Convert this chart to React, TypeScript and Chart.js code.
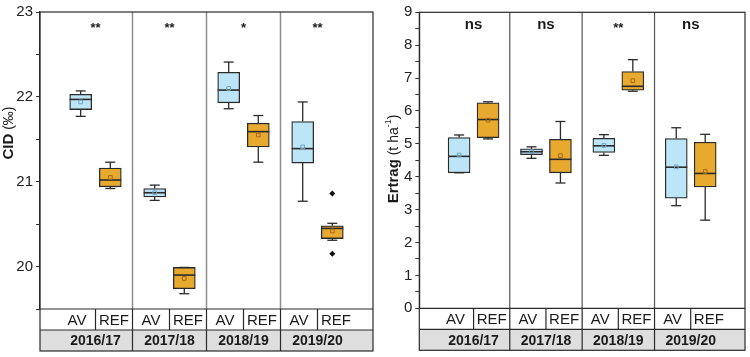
import React, { useEffect, useRef } from 'react';
import { Chart, registerables } from 'chart.js';
Chart.register(...registerables);

// ---------- data ----------
const years = ['2016/17', '2017/18', '2018/19', '2019/20'];
const groups = ['AV', 'REF'];

// CID (‰)
const cidAvMin = [21.77, 20.78, 21.86, 20.77];
const cidAvQ1 = [21.85, 20.82, 21.93, 21.22];
const cidAvMed = [21.97, 20.87, 22.08, 21.39];
const cidAvQ3 = [22.03, 20.92, 22.29, 21.71];
const cidAvMax = [22.07, 20.96, 22.41, 21.94];
const cidAvMean = [21.94, 20.87, 22.1, 21.41];
const cidRefMin = [20.92, 19.68, 21.23, 20.31];
const cidRefQ1 = [20.94, 19.74, 21.41, 20.33];
const cidRefMed = [21.02, 19.9, 21.59, 20.45];
const cidRefQ3 = [21.16, 19.99, 21.69, 20.48];
const cidRefMax = [21.23, 19.99, 21.78, 20.51];
const cidRefMean = [21.05, 19.86, 21.55, 20.42];
const cidRefOutliers = [[], [], [], [20.86, 20.15]];
const cidSig = ['**', '**', '*', '**'];
const cidTicks = [19.5, 23];

// Ertrag (t ha-1)
const ertAvMin = [4.12, 4.56, 4.65, 3.12];
const ertAvQ1 = [4.12, 4.67, 4.74, 3.35];
const ertAvMed = [4.62, 4.76, 4.94, 4.29];
const ertAvQ3 = [5.19, 4.85, 5.17, 5.16];
const ertAvMax = [5.27, 4.91, 5.28, 5.49];
const ertAvMean = [4.66, 4.76, 4.95, 4.3];
const ertRefMin = [5.15, 3.81, 6.6, 2.68];
const ertRefQ1 = [5.19, 4.12, 6.63, 3.69];
const ertRefMed = [5.74, 4.53, 6.75, 4.1];
const ertRefQ3 = [6.25, 5.14, 7.2, 5.05];
const ertRefMax = [6.28, 5.68, 7.56, 5.29];
const ertRefMean = [5.72, 4.64, 6.92, 4.16];
const ertRefOutliers = [[], [], [], []];
const ertSig = ['ns', 'ns', '**', 'ns'];
const ertTicks = [0, 9];

// ---------- styling ----------
const FONT = "'Liberation Sans Narrow', 'Liberation Sans', Arial, sans-serif";
const FONT_W = "'Liberation Sans', Arial, sans-serif";
const GROUP_POS = [0.3, 0.7];
const FILL = ['#bde5f8', '#e8aa2e'];
const MEAN_COL = ['#6fa6c8', '#a8661a'];
const EDGE = '#2b2b2b';

type Stats = { min: number[]; q1: number[]; med: number[]; q3: number[]; max: number[]; mean: number[] };

const boxPlugin = {
  id: 'boxExtras',
  beforeDatasetsDraw(chart: any) {
    const o = chart.options.plugins.boxExtras;
    const { ctx, chartArea: a } = chart;
    const x = chart.scales.x;
    ctx.save();
    ctx.strokeStyle = o.sepColor;
    ctx.lineWidth = o.sepWidth;
    for (let i = 1; i < years.length; i++) {
      const px = x.getPixelForValue(i);
      ctx.beginPath();
      ctx.moveTo(px, a.top);
      ctx.lineTo(px, a.bottom);
      ctx.stroke();
    }
    ctx.restore();
  },
  afterDatasetDraw(chart: any, args: any) {
    const o = chart.options.plugins.boxExtras;
    if (args.meta.type !== 'bar') return;
    const st: Stats = o.stats[args.index];
    const { ctx } = chart;
    const y = chart.scales.y;
    ctx.save();
    ctx.strokeStyle = EDGE;
    ctx.lineWidth = 1.3;
    args.meta.data.forEach((el: any, i: number) => {
      const cx = el.x;
      const hw = el.width / 2;
      const cap = 5;
      const line = (x1: number, y1: number, x2: number, y2: number) => {
        ctx.beginPath();
        ctx.moveTo(x1, y1);
        ctx.lineTo(x2, y2);
        ctx.stroke();
      };
      const yMax = y.getPixelForValue(st.max[i]);
      const yQ3 = y.getPixelForValue(st.q3[i]);
      const yQ1 = y.getPixelForValue(st.q1[i]);
      const yMin = y.getPixelForValue(st.min[i]);
      const yMed = y.getPixelForValue(st.med[i]);
      line(cx, yQ3, cx, yMax);
      line(cx - cap, yMax, cx + cap, yMax);
      line(cx, yQ1, cx, yMin);
      line(cx - cap, yMin, cx + cap, yMin);
      ctx.lineWidth = 1.6;
      line(cx - hw, yMed, cx + hw, yMed);
      ctx.lineWidth = 1.3;
    });
    ctx.restore();
  },
  afterDraw(chart: any) {
    const o = chart.options.plugins.boxExtras;
    const { ctx, chartArea: a } = chart;
    const x = chart.scales.x;
    const rowH = o.rowH;
    const b = a.bottom;
    ctx.save();
    // year row background
    ctx.fillStyle = '#dedede';
    ctx.fillRect(a.left, b + rowH, a.right - a.left, rowH);
    ctx.strokeStyle = '#2a2a2a';
    ctx.lineWidth = 1.2;
    ctx.strokeRect(a.left, a.top, a.right - a.left, b + 2 * rowH - a.top);
    const hl = (yy: number) => {
      ctx.beginPath();
      ctx.moveTo(a.left, yy);
      ctx.lineTo(a.right, yy);
      ctx.stroke();
    };
    hl(b);
    hl(b + rowH);
    for (let i = 1; i < years.length; i++) {
      const px = x.getPixelForValue(i);
      ctx.beginPath();
      ctx.moveTo(px, b);
      ctx.lineTo(px, b + 2 * rowH);
      ctx.stroke();
    }
    for (let i = 0; i < years.length; i++) {
      const px = x.getPixelForValue(i + 0.5);
      ctx.beginPath();
      ctx.moveTo(px, b);
      ctx.lineTo(px, b + rowH);
      ctx.stroke();
    }
    // labels
    ctx.fillStyle = '#1a1a1a';
    ctx.textAlign = 'center';
    ctx.textBaseline = 'middle';
    for (let i = 0; i < years.length; i++) {
      ctx.font = `15px ${FONT}`;
      groups.forEach((g, gi) => {
        ctx.fillText(g, x.getPixelForValue(i + 0.25 + gi * 0.5), b + rowH / 2 + 1);
      });
      ctx.font = `bold 14px ${FONT}`;
      ctx.fillText(years[i], x.getPixelForValue(i + 0.5), b + rowH * 1.5 + 1);
    }
    // significance
    ctx.textBaseline = 'alphabetic';
    for (let i = 0; i < years.length; i++) {
      const s = o.sig[i];
      ctx.font = s === 'ns' ? `bold 15px ${FONT_W}` : `bold 13px ${FONT_W}`;
      ctx.fillText(s, x.getPixelForValue(i + 0.5), a.top + (s === 'ns' ? 17 : 20));
    }
    // y title
    ctx.translate(o.titleX, o.titleY);
    ctx.rotate(-Math.PI / 2);
    const parts: { t: string; f: string; dy: number }[] = o.title;
    let total = 0;
    parts.forEach((p) => {
      ctx.font = p.f;
      total += ctx.measureText(p.t).width;
    });
    let cx = -total / 2;
    ctx.textAlign = 'left';
    ctx.textBaseline = 'middle';
    parts.forEach((p) => {
      ctx.font = p.f;
      ctx.fillText(p.t, cx, p.dy);
      cx += ctx.measureText(p.t).width;
    });
    ctx.restore();
  },
};

function buildConfig(
  stats: Stats[],
  outliers: number[][],
  sig: string[],
  range: number[],
  padding: any,
  yWidth: number,
  title: any,
  titleX: number,
  titleY: number,
  sepColor: string,
  sepWidth: number
): any {
  const boxData = (s: Stats, gi: number) =>
    years.map((_, i) => ({ x: i + GROUP_POS[gi], y: [s.q1[i], s.q3[i]] }));
  const meanData = (s: Stats, gi: number) => years.map((_, i) => ({ x: i + GROUP_POS[gi], y: s.mean[i] }));
  const outData: { x: number; y: number }[] = [];
  outliers.forEach((arr, i) => arr.forEach((v) => outData.push({ x: i + GROUP_POS[1], y: v })));
  return {
    type: 'bar',
    data: {
      datasets: [
        ...stats.map((s, gi) => ({
          type: 'bar',
          label: groups[gi],
          data: boxData(s, gi),
          backgroundColor: FILL[gi],
          borderColor: EDGE,
          borderWidth: 1.3,
          borderSkipped: false,
          barThickness: 22,
          grouped: false,
          order: 3,
        })),
        ...stats.map((s, gi) => ({
          type: 'scatter',
          label: groups[gi] + ' mean',
          data: meanData(s, gi),
          pointStyle: 'rect',
          pointRadius: 2.6,
          borderWidth: 1,
          borderColor: MEAN_COL[gi],
          backgroundColor: 'rgba(0,0,0,0)',
          order: 1,
        })),
        {
          type: 'scatter',
          label: 'outliers',
          data: outData,
          pointStyle: 'rectRot',
          pointRadius: 3,
          borderWidth: 0,
          backgroundColor: '#111',
          order: 0,
        },
      ],
    },
    options: {
      responsive: false,
      animation: false,
      layout: { padding },
      plugins: {
        legend: { display: false },
        tooltip: { enabled: false },
        boxExtras: { stats, sig, rowH: 21, title, titleX, titleY, sepColor, sepWidth },
      },
      scales: {
        x: { type: 'linear', min: 0, max: years.length, display: false },
        y: {
          type: 'linear',
          min: range[0],
          max: range[1],
          afterFit: (s: any) => {
            s.width = yWidth;
          },
          border: { display: true, color: '#2a2a2a', width: 1.2 },
          grid: { drawOnChartArea: false, drawTicks: true, tickLength: 4, color: '#333', lineWidth: 1 },
          ticks: {
            stepSize: 0.5,
            autoSkip: false,
            padding: 3,
            color: '#222',
            font: { family: FONT, size: 15 },
            callback: (v: number) => (Number.isInteger(v) ? String(v) : ''),
          },
        },
      },
    },
    plugins: [boxPlugin],
  };
}

export default function App() {
  const leftRef = useRef<HTMLCanvasElement>(null);
  const rightRef = useRef<HTMLCanvasElement>(null);
  useEffect(() => {
    document.body.style.margin = '0';
    const cidStats: Stats[] = [
      { min: cidAvMin, q1: cidAvQ1, med: cidAvMed, q3: cidAvQ3, max: cidAvMax, mean: cidAvMean },
      { min: cidRefMin, q1: cidRefQ1, med: cidRefMed, q3: cidRefQ3, max: cidRefMax, mean: cidRefMean },
    ];
    const ertStats: Stats[] = [
      { min: ertAvMin, q1: ertAvQ1, med: ertAvMed, q3: ertAvQ3, max: ertAvMax, mean: ertAvMean },
      { min: ertRefMin, q1: ertRefQ1, med: ertRefMed, q3: ertRefQ3, max: ertRefMax, mean: ertRefMean },
    ];
    const c1 = new Chart(
      leftRef.current!,
      buildConfig(
        cidStats,
        cidRefOutliers,
        cidSig,
        cidTicks,
        { top: 10, right: 2.5, bottom: 48, left: 0 },
        40,
        [
          { t: 'CID', f: `bold 15px ${FONT_W}`, dy: 0 },
          { t: ' (‰)', f: `14px ${FONT_W}`, dy: 0 },
        ],
        9,
        133,
        '#8e8e8e',
        1.5
      )
    );
    const c2 = new Chart(
      rightRef.current!,
      buildConfig(
        ertStats,
        ertRefOutliers,
        ertSig,
        ertTicks,
        { top: 12.3, right: 2.7, bottom: 48.7, left: 0 },
        41.3,
        [
          { t: 'Ertrag', f: `bold 15px ${FONT_W}`, dy: 0 },
          { t: ' (t ha', f: `14px ${FONT_W}`, dy: 0 },
          { t: '-1', f: `9px ${FONT_W}`, dy: -5 },
          { t: ')', f: `14px ${FONT_W}`, dy: 0 },
        ],
        16,
        159,
        '#555555',
        1.2
      )
    );
    return () => {
      c1.destroy();
      c2.destroy();
    };
  }, []);
  return (
    <div style={{ position: 'relative', width: 750, height: 357, background: '#fff' }}>
      <canvas ref={leftRef} width={378} height={357} style={{ position: 'absolute', left: 0, top: 0, width: 378, height: 357 }} />
      <canvas ref={rightRef} width={372} height={357} style={{ position: 'absolute', left: 378, top: 0, width: 372, height: 357 }} />
    </div>
  );
}
